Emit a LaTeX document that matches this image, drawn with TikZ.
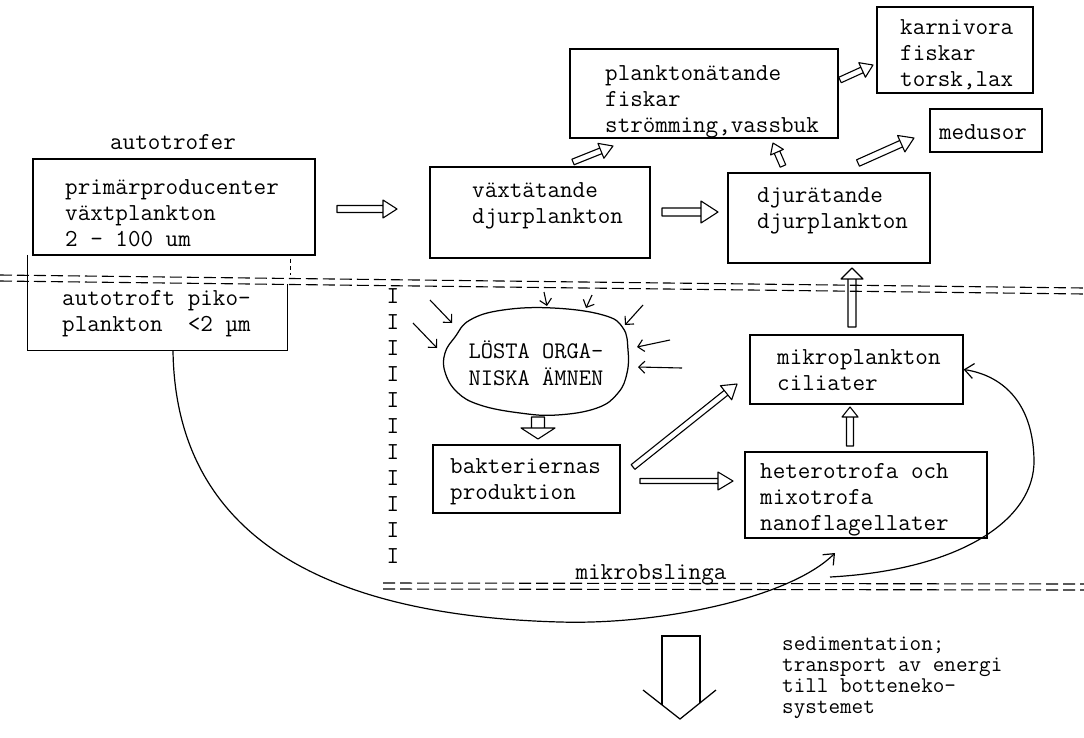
\documentclass[tikz,border=0pt]{standalone}
\usepackage{fontspec}
\usetikzlibrary{calc,arrows.meta}

% hollow double-line arrow: #1 tail, #2 tip, #3 shaft half-width, #4 head length, #5 head half-width (pt)
\newcommand{\hollowarrow}[5]{%
  \path ($(#2)!#4pt!(#1)$) coordinate (neck);
  \draw[hollow]
    ($(#1)!#3pt!90:(#2)$) -- ($(neck)!#3pt!90:(#2)$) -- ($(neck)!#3pt!-90:(#2)$) -- ($(#1)!#3pt!-90:(#2)$) -- cycle
    ($(neck)!#5pt!90:(#2)$) -- (#2) -- ($(neck)!#5pt!-90:(#2)$) -- cycle;
}

\tikzset{
  box/.style={draw, line width=1.25pt, inner sep=0pt},
  txt/.style={font=\fontsize{24.4}{26}\selectfont\ttfamily, align=left, inner sep=0pt, anchor=west},
  hollow/.style={line width=1.1pt, line join=round},
  thinarrow/.style={line width=1.1pt, -{Straight Barb[length=6pt,width=12pt]}},
  curvearrow/.style={line width=1.2pt, -{Straight Barb[length=9pt,width=15pt]}},
  sea/.style={line width=1.1pt, dash pattern=on 12pt off 5pt},
  plain/.style={line width=1.25pt},
}

\begin{document}
\begin{tikzpicture}[x=1pt,y=-1pt]
\useasboundingbox (0,0) rectangle (1084,737);
\fill[white] (0,0) rectangle (1084,737);

% water-layer boundaries
\draw[sea] (0,275) -- (1084,288);
\draw[sea] (0,281) -- (1084,294);
\draw[sea] (383,583) -- (1084,584);
\draw[sea] (383,589) -- (1084,590);

% autotrophs
\node[txt, anchor=center] (autotrofer) at (173,142) {autotrofer};
\node[box, minimum width=282, minimum height=96] (prim) at (174,207) {};
\node[txt] (primt) at (65,213.5) {primärproducenter\\växtplankton\\2 - 100 um};

\node[minimum width=259, minimum height=95, inner sep=0pt] (pico) at (157.5,302.5) {};
\draw[plain] (pico.north west) -- (pico.south west) -- (pico.south east) -- ($(pico.south east)+(0,-66)$);
\draw[line width=1pt, dash pattern=on 4pt off 3pt] ($(pico.north east)+(3,4)$) -- ($(pico.north east)+(3,20)$);
\node[txt] (picot) at (62,314) {autotroft piko-\\plankton\ \ <2 µm};

% grazing food chain
\node[box, minimum width=220, minimum height=91] (vaxt) at (540,212.5) {};
\node[txt] (vaxtt) at (472,205.5) {växtätande\\djurplankton};
\node[box, minimum width=202, minimum height=90] (djur) at (829,218) {};
\node[txt] (djurt) at (757,210.5) {djurätande\\djurplankton};
\node[box, minimum width=268, minimum height=89] (plank) at (704,93.5) {};
\node[txt] (plankt) at (605,102) {planktonätande\\fiskar\\strömming,vassbuk};
\node[box, minimum width=156, minimum height=86] (karn) at (955,50) {};
\node[txt] (karnt) at (900,55) {karnivora\\fiskar\\torsk,lax};
\node[box, minimum width=112, minimum height=43] (medu) at (986,130.5) {};
\node[txt, anchor=center] (medut) at (983,132) {medusor};

% microbial loop
\node[box, minimum width=213, minimum height=69] (mikro) at (856.5,369.5) {};
\node[txt] (mikrot) at (777,370) {mikroplankton\\ciliater};
\node[box, minimum width=187, minimum height=68] (bakt) at (526.5,479) {};
\node[txt] (baktt) at (450,481.5) {bakteriernas\\produktion};
\node[box, minimum width=242, minimum height=86] (hetero) at (866,495) {};
\node[txt] (heterot) at (760,500) {heterotrofa och\\mixotrofa\\nanoflagellater};

\node[txt, anchor=center, align=center, font=\fontsize{23.8}{27}\selectfont\ttfamily] (blob) at (536,363) {LÖSTA ORGA-\\NISKA ÄMNEN};
\draw[plain] plot[smooth cycle, tension=0.7] coordinates {(503,310) (553,308) (603,315) (623,328) (628,350) (627,373) (618,393) (597,408) (557,415) (520,413) (480,405) (457,392) (445,372) (445,353) (455,337) (470,320)};

\foreach \k in {0,...,10}
  \node[txt, anchor=center] (bar\k) at (393,{296+26*\k}) {I};

\node[txt, anchor=center] (mikrobslinga) at (651,575) {mikrobslinga};

% inputs of dissolved organic matter
\coordinate (d1a) at (430,300); \coordinate (d1b) at (452,323);
\coordinate (d2a) at (413,323); \coordinate (d2b) at (437,348);
\coordinate (d3a) at (544,292); \coordinate (d3b) at (547,306);
\coordinate (d4a) at (592,295); \coordinate (d4b) at (586,308);
\coordinate (d5a) at (643,305); \coordinate (d5b) at (625,325);
\coordinate (d6a) at (670,340); \coordinate (d6b) at (637,347);
\coordinate (d7a) at (682,368); \coordinate (d7b) at (638,367);
\foreach \i in {1,...,7} \draw[thinarrow] (d\i a) -- (d\i b);

% energy flows
\coordinate (f1a) at (337,209);  \coordinate (f1b) at (397,209);
\coordinate (f2a) at (662,212);  \coordinate (f2b) at (718,212);
\coordinate (f3a) at (573,162);  \coordinate (f3b) at (613,146);
\coordinate (f4a) at (783,166);  \coordinate (f4b) at (773,143);
\coordinate (f5a) at (840,80);   \coordinate (f5b) at (873,65);
\coordinate (f6a) at (858,163);  \coordinate (f6b) at (914,138);
\coordinate (f7a) at (852,327);  \coordinate (f7b) at (852,268);
\coordinate (f8a) at (850,446);  \coordinate (f8b) at (850,407);
\coordinate (f9a) at (538,417);  \coordinate (f9b) at (538,439);
\coordinate (f10a) at (633,467); \coordinate (f10b) at (737,384);
\coordinate (f11a) at (640,481); \coordinate (f11b) at (733,481);
\hollowarrow{f1a}{f1b}{3.5}{14}{9}
\hollowarrow{f2a}{f2b}{4}{17}{11}
\hollowarrow{f3a}{f3b}{3}{13}{8}
\hollowarrow{f4a}{f4b}{3}{10}{7}
\hollowarrow{f5a}{f5b}{3}{12}{8}
\hollowarrow{f6a}{f6b}{3.5}{14}{9}
\hollowarrow{f7a}{f7b}{4}{11}{11}
\hollowarrow{f8a}{f8b}{3.5}{10}{8}
\hollowarrow{f9a}{f9b}{6.5}{11}{17}
\hollowarrow{f10a}{f10b}{3}{14}{9}
\hollowarrow{f11a}{f11b}{2.5}{15}{9}

% loop from picoplankton and back to ciliates
\coordinate (loopend) at (835,553);
\draw[curvearrow] ($(pico.south)+(15.5,0)$) .. controls (175,520) and (300,615) .. (560,622)
  .. controls (660,625) and (790,598) .. (loopend);
\coordinate (loopstart) at (830,577);
\draw[curvearrow] (loopstart) .. controls (960,570) and (1035,520) .. (1034,460)
  .. controls (1033,400) and (1000,375) .. (mikro.east);

% sedimentation
\draw[plain] (662,705) -- (662,636) -- (700,636) -- (700,703);
\draw[plain] (643,690) -- (680,719) -- (716,690);
\node[txt, font=\fontsize{22.5}{21}\selectfont\ttfamily] (sed) at (782,678) {sedimentation;\\transport av energi\\till botteneko-\\systemet};
\end{tikzpicture}
\end{document}
